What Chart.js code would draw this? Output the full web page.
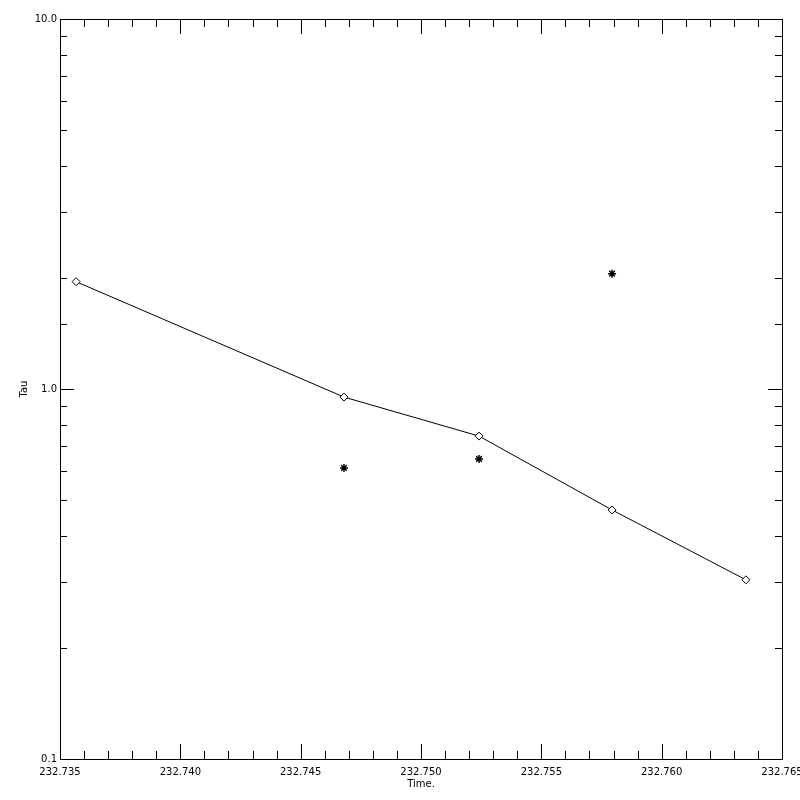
<!DOCTYPE html>
<html lang="en">
<head>
<meta charset="UTF-8">
<title>Tau vs Time</title>
<style>
  html, body { margin: 0; padding: 0; background: #fff; }
  #wrap { width: 800px; height: 800px; }
</style>
</head>
<body>
<div id="wrap"><canvas id="myChart" width="800" height="800"></canvas></div>

<script src="https://cdn.jsdelivr.net/npm/chart.js"></script>
<script>
  // fitted line (diamonds)
  const lineTimes = [232.73567, 232.74680, 232.75241, 232.75794, 232.76350];
  const lineTau = [1.95, 0.951, 0.746, 0.471, 0.305];

  // measured points (stars)
  const starTimes = [232.74680, 232.75241, 232.75794];
  const starTau = [0.612, 0.647, 2.05];

  const xMin = 232.735, xMax = 232.765;
  const yMin = 0.1, yMax = 10;

  const font = { family: 'DejaVu Sans', size: 10 };

  // inward ticks on all four sides, like the old plot
  const frameTicks = {
    id: 'frameTicks',
    afterDraw(chart) {
      const ctx = chart.ctx;
      const a = chart.chartArea;
      const xs = chart.scales.x, ys = chart.scales.y;
      ctx.save();
      ctx.strokeStyle = '#000';
      ctx.lineWidth = 1;
      ctx.strokeRect(Math.round(a.left) + 0.5, Math.round(a.top) + 0.5,
        Math.round(a.right - a.left), Math.round(a.bottom - a.top));
      ctx.beginPath();
      xs.ticks.forEach(t => {
        const n = Math.round(t.value * 1000);
        const len = n % 5 === 0 ? 15 : 8;
        const px = Math.round(xs.getPixelForValue(t.value)) + 0.5;
        ctx.moveTo(px, a.bottom); ctx.lineTo(px, a.bottom - len);
        ctx.moveTo(px, a.top); ctx.lineTo(px, a.top + len);
      });
      ys.ticks.forEach(t => {
        const e = Math.log10(t.value);
        const len = Math.abs(e - Math.round(e)) < 1e-6 ? 14 : 7;
        const py = Math.round(ys.getPixelForValue(t.value)) + 0.5;
        ctx.moveTo(a.left, py); ctx.lineTo(a.left + len, py);
        ctx.moveTo(a.right, py); ctx.lineTo(a.right - len, py);
      });
      ctx.stroke();
      ctx.restore();
    }
  };

  const ctx = document.getElementById('myChart').getContext('2d');
  const myChart = new Chart(ctx, {
    type: 'scatter',
    data: {
      datasets: [{
        label: 'Fit',
        data: lineTimes.map((t, i) => ({ x: t, y: lineTau[i] })),
        showLine: true,
        borderColor: '#000',
        borderWidth: 1,
        pointStyle: 'rectRot',
        pointRadius: 4,
        pointBackgroundColor: '#fff',
        pointBorderColor: '#000',
        pointBorderWidth: 1
      }, {
        label: 'Tau',
        data: starTimes.map((t, i) => ({ x: t, y: starTau[i] })),
        showLine: false,
        pointStyle: 'star',
        pointRadius: 4,
        pointBorderColor: '#000',
        pointBorderWidth: 1.5
      }]
    },
    options: {
      responsive: false,
      animation: false,
      layout: { padding: { left: 0, top: 19, right: 18, bottom: 0 } },
      plugins: { legend: { display: false }, tooltip: { enabled: false } },
      scales: {
        x: {
          type: 'linear',
          min: xMin,
          max: xMax,
          grid: { display: false, drawTicks: false },
          border: { display: false },
          ticks: {
            stepSize: 0.001,
            autoSkip: false,
            maxRotation: 0,
            padding: 7,
            color: '#000',
            font: font,
            callback: v => Math.round(v * 1000) % 5 === 0 ? v.toFixed(3) : ''
          },
          title: { display: true, text: 'Time.', color: '#000', font: font, padding: { top: 0, bottom: 10 } },
          afterFit: s => { s.height = 41; s.paddingLeft = 0; s.paddingRight = 0; }
        },
        y: {
          type: 'logarithmic',
          min: yMin,
          max: yMax,
          grid: { display: false, drawTicks: false },
          border: { display: false },
          ticks: {
            autoSkip: false,
            padding: 3,
            color: '#000',
            font: font,
            callback: v => {
              const e = Math.log10(v);
              return Math.abs(e - Math.round(e)) < 1e-6 ? v.toFixed(1) : '';
            }
          },
          title: { display: true, text: 'Tau', color: '#000', font: font, padding: { top: 18, bottom: 0 } },
          afterFit: s => { s.width = 60; s.paddingTop = 0; s.paddingBottom = 0; }
        }
      }
    },
    plugins: [frameTicks]
  });
</script>
</body>
</html>
